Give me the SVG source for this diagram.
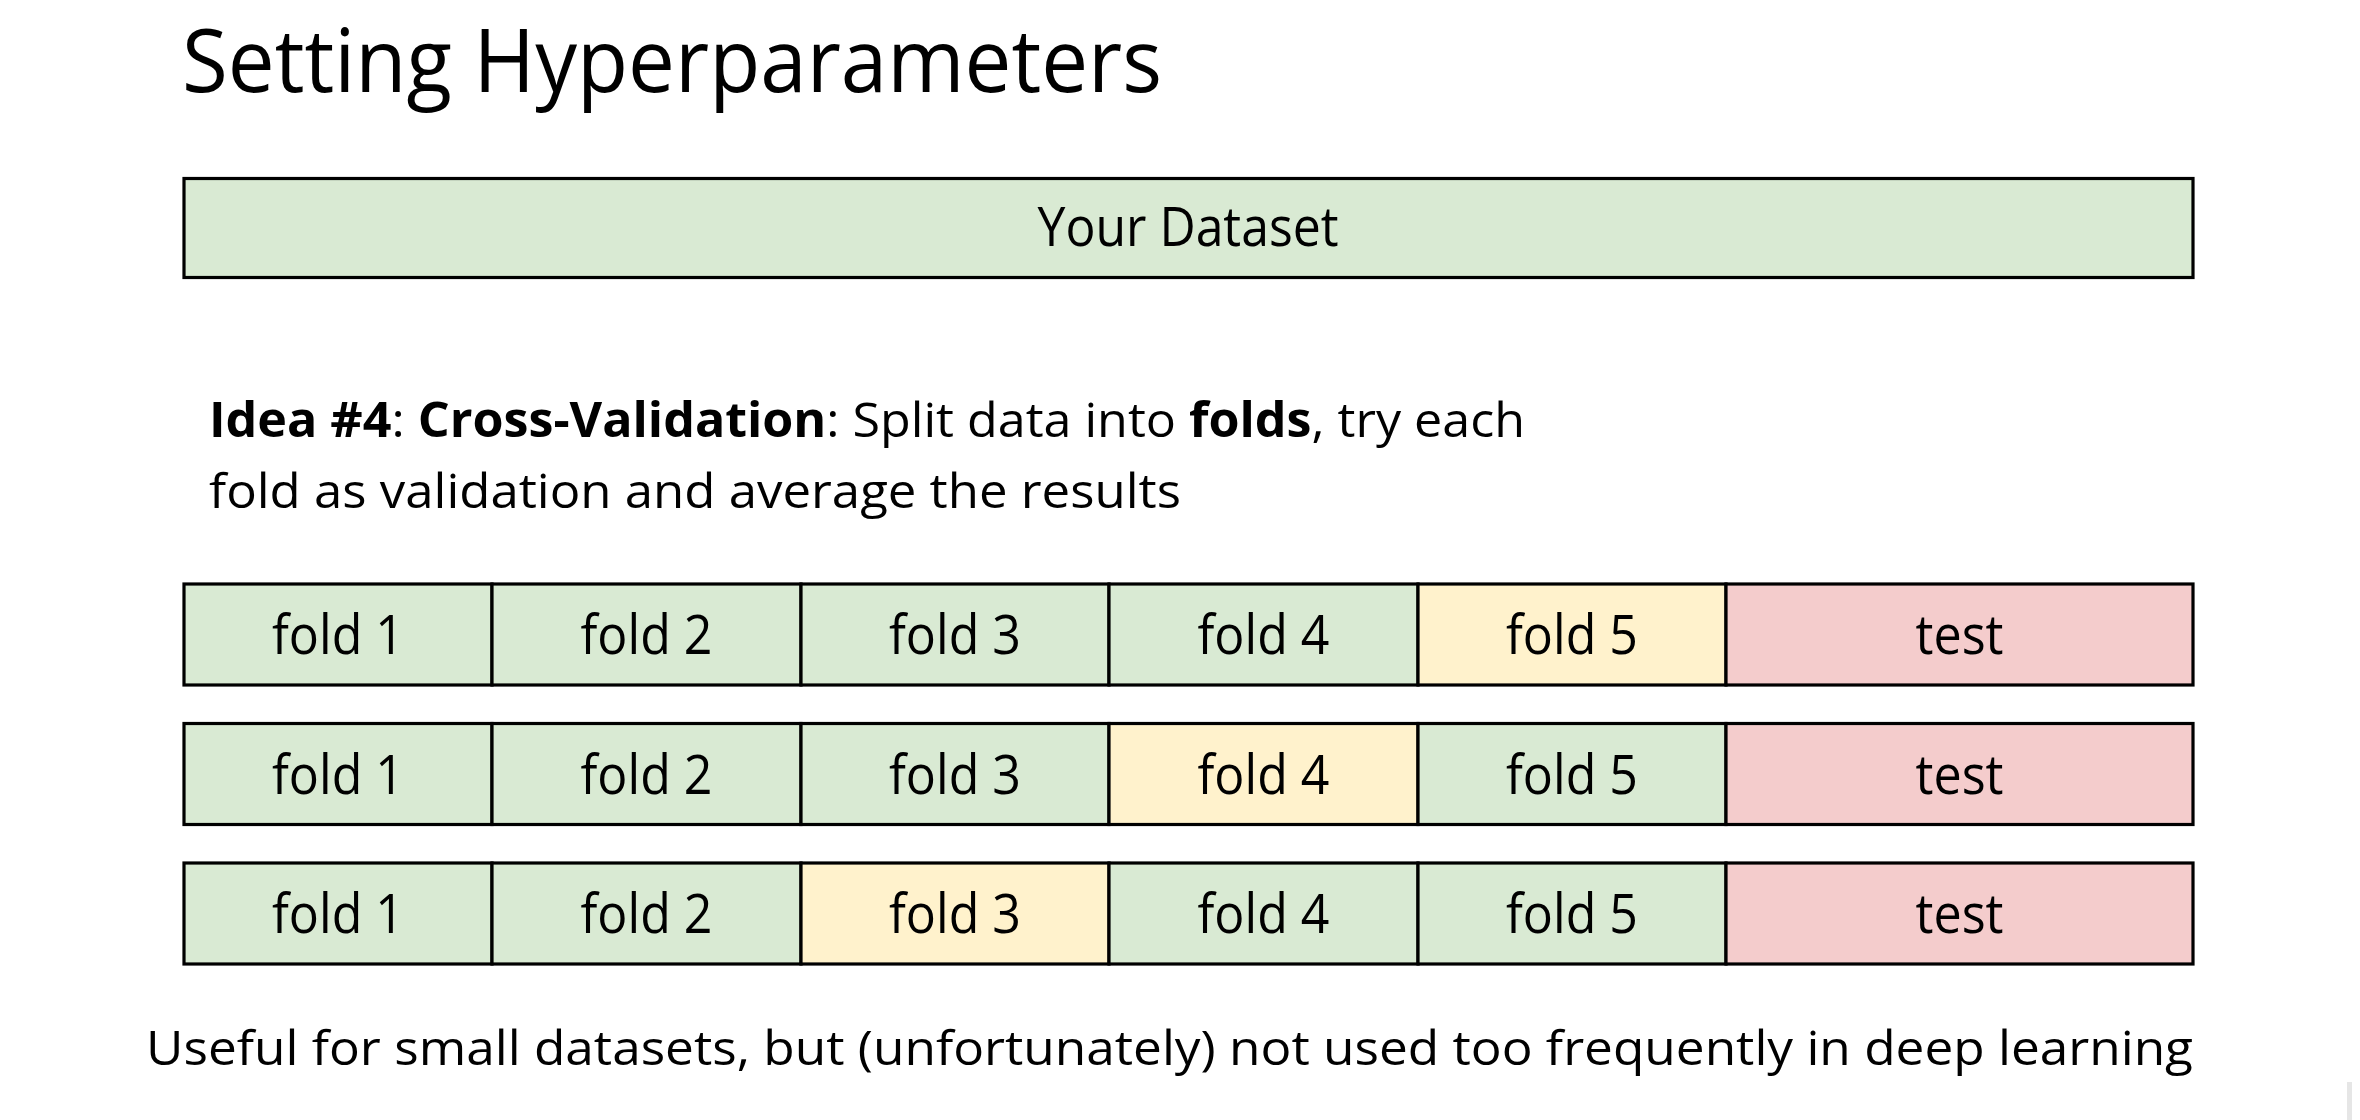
<svg xmlns="http://www.w3.org/2000/svg" width="2360" height="1120" viewBox="0 0 2360 1120">
<style>
  text { font-family: "Open Sans", "Noto Sans", "Liberation Sans", sans-serif; fill: #000; }
  .cell { stroke: #000; stroke-width: 3.2; }
  .g { fill: #D9EAD3; }
  .y { fill: #FFF2CC; }
  .r { fill: #F4CCCC; }
  .lbl { font-size: 54px; text-anchor: middle; }
  .b { font-weight: bold; }
</style>
<rect x="0" y="0" width="2360" height="1120" fill="#FFFFFF"/>

<g id="title">
  <text x="182" y="92" font-size="87" textLength="980" lengthAdjust="spacingAndGlyphs">Setting Hyperparameters</text>
</g>

<g id="dataset">
  <rect class="cell g" x="184" y="178.5" width="2009" height="99"/>
  <text class="lbl" x="1188" y="246" textLength="301" lengthAdjust="spacingAndGlyphs">Your Dataset</text>
</g>

<g id="idea">
  <text x="209" y="437" font-size="48" textLength="1316" lengthAdjust="spacingAndGlyphs"><tspan class="b">Idea #4</tspan>: <tspan class="b">Cross-Validation</tspan>: Split data into <tspan class="b">folds</tspan>, try each</text>
  <text x="209" y="508" font-size="48" textLength="972" lengthAdjust="spacingAndGlyphs">fold as validation and average the results</text>
</g>

<g id="row1">
  <g id="r1-fold1"><rect class="cell g" x="184" y="584" width="308" height="101"/><text class="lbl" x="338" y="654" textLength="132" lengthAdjust="spacingAndGlyphs">fold 1</text></g>
  <g id="r1-fold2"><rect class="cell g" x="492" y="584" width="309" height="101"/><text class="lbl" x="646.5" y="654" textLength="132" lengthAdjust="spacingAndGlyphs">fold 2</text></g>
  <g id="r1-fold3"><rect class="cell g" x="801" y="584" width="308" height="101"/><text class="lbl" x="955" y="654" textLength="132" lengthAdjust="spacingAndGlyphs">fold 3</text></g>
  <g id="r1-fold4"><rect class="cell g" x="1109" y="584" width="309" height="101"/><text class="lbl" x="1263.5" y="654" textLength="132" lengthAdjust="spacingAndGlyphs">fold 4</text></g>
  <g id="r1-fold5"><rect class="cell y" x="1418" y="584" width="308" height="101"/><text class="lbl" x="1572" y="654" textLength="132" lengthAdjust="spacingAndGlyphs">fold 5</text></g>
  <g id="r1-test"><rect class="cell r" x="1726" y="584" width="467" height="101"/><text class="lbl" x="1959.5" y="654" textLength="88" lengthAdjust="spacingAndGlyphs">test</text></g>
</g>

<g id="row2">
  <g id="r2-fold1"><rect class="cell g" x="184" y="723.5" width="308" height="101"/><text class="lbl" x="338" y="793.5" textLength="132" lengthAdjust="spacingAndGlyphs">fold 1</text></g>
  <g id="r2-fold2"><rect class="cell g" x="492" y="723.5" width="309" height="101"/><text class="lbl" x="646.5" y="793.5" textLength="132" lengthAdjust="spacingAndGlyphs">fold 2</text></g>
  <g id="r2-fold3"><rect class="cell g" x="801" y="723.5" width="308" height="101"/><text class="lbl" x="955" y="793.5" textLength="132" lengthAdjust="spacingAndGlyphs">fold 3</text></g>
  <g id="r2-fold4"><rect class="cell y" x="1109" y="723.5" width="309" height="101"/><text class="lbl" x="1263.5" y="793.5" textLength="132" lengthAdjust="spacingAndGlyphs">fold 4</text></g>
  <g id="r2-fold5"><rect class="cell g" x="1418" y="723.5" width="308" height="101"/><text class="lbl" x="1572" y="793.5" textLength="132" lengthAdjust="spacingAndGlyphs">fold 5</text></g>
  <g id="r2-test"><rect class="cell r" x="1726" y="723.5" width="467" height="101"/><text class="lbl" x="1959.5" y="793.5" textLength="88" lengthAdjust="spacingAndGlyphs">test</text></g>
</g>

<g id="row3">
  <g id="r3-fold1"><rect class="cell g" x="184" y="863" width="308" height="101"/><text class="lbl" x="338" y="933" textLength="132" lengthAdjust="spacingAndGlyphs">fold 1</text></g>
  <g id="r3-fold2"><rect class="cell g" x="492" y="863" width="309" height="101"/><text class="lbl" x="646.5" y="933" textLength="132" lengthAdjust="spacingAndGlyphs">fold 2</text></g>
  <g id="r3-fold3"><rect class="cell y" x="801" y="863" width="308" height="101"/><text class="lbl" x="955" y="933" textLength="132" lengthAdjust="spacingAndGlyphs">fold 3</text></g>
  <g id="r3-fold4"><rect class="cell g" x="1109" y="863" width="309" height="101"/><text class="lbl" x="1263.5" y="933" textLength="132" lengthAdjust="spacingAndGlyphs">fold 4</text></g>
  <g id="r3-fold5"><rect class="cell g" x="1418" y="863" width="308" height="101"/><text class="lbl" x="1572" y="933" textLength="132" lengthAdjust="spacingAndGlyphs">fold 5</text></g>
  <g id="r3-test"><rect class="cell r" x="1726" y="863" width="467" height="101"/><text class="lbl" x="1959.5" y="933" textLength="88" lengthAdjust="spacingAndGlyphs">test</text></g>
</g>

<g id="footer">
  <text x="146" y="1065" font-size="48" textLength="2047" lengthAdjust="spacingAndGlyphs">Useful for small datasets, but (unfortunately) not used too frequently in deep learning</text>
</g>

<g id="connectors"></g>

<rect x="2347" y="1082" width="5" height="38" fill="#E6E6E6"/>
</svg>
